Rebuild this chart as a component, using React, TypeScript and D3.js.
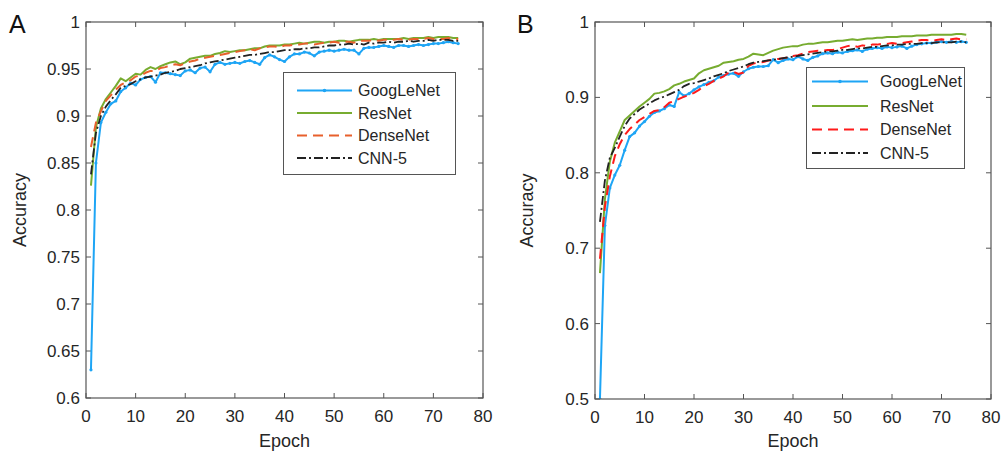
import React from "react";
import * as d3 from "d3";

const epochs: number[] = Array.from({ length: 75 }, (_, i) => i + 1);
const seriesNames = ["GoogLeNet", "ResNet", "DenseNet", "CNN-5"];
const xTicks = [0, 10, 20, 30, 40, 50, 60, 70, 80];
const yTicksA = [0.6, 0.65, 0.7, 0.75, 0.8, 0.85, 0.9, 0.95, 1];
const yTicksB = [0.5, 0.6, 0.7, 0.8, 0.9, 1];

const googA = [
  0.630, 0.850, 0.893, 0.904, 0.913, 0.916, 0.926, 0.930, 0.935, 0.933,
  0.939, 0.941, 0.942, 0.936, 0.946, 0.946, 0.945, 0.944, 0.943, 0.948,
  0.949, 0.946, 0.951, 0.952, 0.947, 0.955, 0.957, 0.955, 0.956, 0.957,
  0.956, 0.958, 0.959, 0.957, 0.955, 0.962, 0.965, 0.963, 0.960, 0.958,
  0.963, 0.966, 0.966, 0.968, 0.967, 0.964, 0.968, 0.969, 0.970, 0.969,
  0.970, 0.971, 0.970, 0.970, 0.966, 0.972, 0.973, 0.973, 0.974, 0.975,
  0.974, 0.973, 0.975, 0.975, 0.974, 0.975, 0.976, 0.975, 0.976, 0.977,
  0.977, 0.978, 0.979, 0.978, 0.977,
];
const resA = [
  0.826, 0.888, 0.908, 0.918, 0.925, 0.932, 0.940, 0.937, 0.941, 0.945,
  0.944, 0.949, 0.952, 0.950, 0.953, 0.955, 0.957, 0.958, 0.955, 0.957,
  0.961, 0.962, 0.963, 0.964, 0.964, 0.966, 0.967, 0.969, 0.968, 0.969,
  0.970, 0.970, 0.971, 0.972, 0.972, 0.974, 0.975, 0.975, 0.975, 0.976,
  0.976, 0.977, 0.978, 0.977, 0.978, 0.979, 0.979, 0.978, 0.979, 0.979,
  0.980, 0.980, 0.979, 0.980, 0.981, 0.981, 0.981, 0.982, 0.981, 0.982,
  0.982, 0.982, 0.982, 0.983, 0.982, 0.983, 0.983, 0.983, 0.984, 0.983,
  0.984, 0.984, 0.984, 0.983, 0.983,
];
const denseA = [
  0.867, 0.893, 0.905, 0.916, 0.922, 0.928, 0.933, 0.936, 0.938, 0.942,
  0.943, 0.946, 0.948, 0.948, 0.951, 0.952, 0.954, 0.955, 0.954, 0.956,
  0.958, 0.959, 0.961, 0.962, 0.963, 0.964, 0.965, 0.966, 0.967, 0.968,
  0.969, 0.970, 0.971, 0.970, 0.972, 0.973, 0.974, 0.974, 0.973, 0.975,
  0.975, 0.976, 0.976, 0.977, 0.977, 0.976, 0.977, 0.978, 0.978, 0.979,
  0.978, 0.979, 0.979, 0.978, 0.980, 0.980, 0.980, 0.981, 0.980, 0.981,
  0.981, 0.981, 0.982, 0.981, 0.981, 0.982, 0.982, 0.982, 0.983, 0.982,
  0.982, 0.982, 0.983, 0.982, 0.982,
];
const cnnA = [
  0.838, 0.882, 0.900, 0.910, 0.917, 0.923, 0.930, 0.932, 0.934, 0.937,
  0.939, 0.941, 0.942, 0.943, 0.944, 0.946, 0.947, 0.948, 0.950, 0.951,
  0.952, 0.953, 0.954, 0.956, 0.957, 0.958, 0.959, 0.960, 0.961, 0.962,
  0.963, 0.964, 0.965, 0.965, 0.966, 0.967, 0.968, 0.968, 0.969, 0.970,
  0.970, 0.971, 0.971, 0.972, 0.972, 0.973, 0.973, 0.974, 0.975, 0.975,
  0.976, 0.976, 0.977, 0.976, 0.977, 0.976, 0.978, 0.977, 0.978, 0.978,
  0.979, 0.978, 0.979, 0.979, 0.980, 0.979, 0.980, 0.980, 0.981, 0.980,
  0.981, 0.981, 0.981, 0.980, 0.980,
];

const googB = [
  0.500, 0.730, 0.780, 0.797, 0.810, 0.830, 0.848, 0.853, 0.862, 0.868,
  0.875, 0.880, 0.882, 0.885, 0.890, 0.888, 0.907, 0.902, 0.905, 0.910,
  0.914, 0.917, 0.920, 0.922, 0.927, 0.929, 0.931, 0.932, 0.928, 0.934,
  0.938, 0.940, 0.941, 0.941, 0.942, 0.950, 0.946, 0.949, 0.951, 0.950,
  0.954, 0.951, 0.949, 0.953, 0.955, 0.958, 0.959, 0.958, 0.960, 0.959,
  0.961, 0.962, 0.963, 0.961, 0.964, 0.965, 0.966, 0.965, 0.967, 0.966,
  0.967, 0.968, 0.965, 0.968, 0.970, 0.971, 0.972, 0.972, 0.973, 0.974,
  0.973, 0.974, 0.973, 0.974, 0.973,
];
const resB = [
  0.667, 0.765, 0.815, 0.840, 0.855, 0.870, 0.876, 0.882, 0.888, 0.893,
  0.898, 0.905, 0.906, 0.908, 0.911, 0.916, 0.918, 0.921, 0.923, 0.925,
  0.932, 0.936, 0.938, 0.940, 0.942, 0.946, 0.947, 0.948, 0.950, 0.951,
  0.954, 0.958, 0.957, 0.956, 0.959, 0.962, 0.964, 0.966, 0.967, 0.968,
  0.968, 0.970, 0.971, 0.971, 0.972, 0.973, 0.973, 0.974, 0.975, 0.975,
  0.976, 0.977, 0.976, 0.977, 0.978, 0.978, 0.979, 0.979, 0.980, 0.980,
  0.980, 0.981, 0.981, 0.981, 0.982, 0.982, 0.982, 0.983, 0.983, 0.983,
  0.983, 0.983, 0.984, 0.984, 0.983,
];
const denseB = [
  0.686, 0.755, 0.795, 0.822, 0.838, 0.850, 0.858, 0.864, 0.870, 0.874,
  0.878, 0.882, 0.883, 0.887, 0.893, 0.895, 0.898, 0.901, 0.903, 0.906,
  0.910, 0.915, 0.918, 0.922, 0.925, 0.928, 0.933, 0.934, 0.931, 0.933,
  0.942, 0.945, 0.946, 0.947, 0.949, 0.950, 0.951, 0.952, 0.953, 0.955,
  0.956, 0.958, 0.960, 0.961, 0.962, 0.962, 0.963, 0.963, 0.964, 0.966,
  0.968, 0.969, 0.967, 0.969, 0.968, 0.970, 0.970, 0.971, 0.971, 0.972,
  0.971, 0.972, 0.973, 0.974, 0.975, 0.976, 0.976, 0.975, 0.976, 0.977,
  0.976, 0.977, 0.978, 0.977, 0.977,
];
const cnnB = [
  0.735, 0.790, 0.820, 0.833, 0.848, 0.862, 0.872, 0.878, 0.884, 0.888,
  0.892, 0.896, 0.899, 0.901, 0.904, 0.907, 0.910, 0.915, 0.918, 0.919,
  0.921, 0.923, 0.925, 0.928, 0.930, 0.932, 0.935, 0.937, 0.939, 0.941,
  0.944, 0.946, 0.947, 0.948, 0.949, 0.950, 0.951, 0.952, 0.953, 0.954,
  0.955, 0.956, 0.957, 0.958, 0.959, 0.960, 0.961, 0.961, 0.962, 0.963,
  0.963, 0.964, 0.965, 0.965, 0.966, 0.967, 0.967, 0.968, 0.969, 0.969,
  0.970, 0.970, 0.971, 0.971, 0.971, 0.972, 0.972, 0.972, 0.973, 0.973,
  0.973, 0.973, 0.974, 0.974, 0.973,
];

const FONT = "'Liberation Sans', Arial, Helvetica, sans-serif";
const AXIS = "#555";
const TEXT = "#262626";

type Style = { color: string; dash?: string; width: number; marker?: boolean };

type PanelProps = {
  letter: string;
  letterX: number;
  left: number;
  right: number;
  top: number;
  bottom: number;
  yDomain: [number, number];
  yTicks: number[];
  yFmt: (v: number) => string;
  ylabelX: number;
  data: number[][];
  styles: Style[];
  legend: { x: number; y: number; w: number; h: number; lx0: number; lx1: number; tx: number; rows: number[] };
};

function Panel(p: PanelProps) {
  const x = d3.scaleLinear().domain([0, 80]).range([p.left, p.right]);
  const y = d3.scaleLinear().domain(p.yDomain).range([p.bottom, p.top]);
  const line = d3
    .line<number>()
    .x((_, i) => x(epochs[i]))
    .y((d) => y(d));
  const tl = 5;
  return (
    <g>
      <text x={p.letterX} y={33} fontSize={25} fontFamily={FONT} fill="#111">
        {p.letter}
      </text>
      <rect x={p.left} y={p.top} width={p.right - p.left} height={p.bottom - p.top} fill="#fff" />
      <defs>
        <clipPath id={"clip" + p.letter}>
          <rect x={p.left} y={p.top} width={p.right - p.left} height={p.bottom - p.top} />
        </clipPath>
      </defs>
      {xTicks.map((t) => (
        <g key={"xt" + t}>
          <line x1={x(t)} x2={x(t)} y1={p.bottom} y2={p.bottom - tl} stroke={AXIS} strokeWidth={1} />
          <line x1={x(t)} x2={x(t)} y1={p.top} y2={p.top + tl} stroke={AXIS} strokeWidth={1} />
          <text x={x(t)} y={p.bottom + 24} textAnchor="middle" fontSize={17} fontFamily={FONT} fill={TEXT}>
            {t}
          </text>
        </g>
      ))}
      {p.yTicks.map((t) => (
        <g key={"yt" + t}>
          <line x1={p.left} x2={p.left + tl} y1={y(t)} y2={y(t)} stroke={AXIS} strokeWidth={1} />
          <line x1={p.right} x2={p.right - tl} y1={y(t)} y2={y(t)} stroke={AXIS} strokeWidth={1} />
          <text x={p.left - 6} y={y(t)} dy="0.35em" textAnchor="end" fontSize={17} fontFamily={FONT} fill={TEXT}>
            {p.yFmt(t)}
          </text>
        </g>
      ))}
      <g clipPath={`url(#clip${p.letter})`}>
        {p.data.map((d, si) => {
          const s = p.styles[si];
          return (
            <g key={"s" + si}>
              <path d={line(d) || ""} fill="none" stroke={s.color} strokeWidth={s.width} strokeDasharray={s.dash} strokeLinejoin="round" />
              {s.marker &&
                d.map((v, i) => <circle key={i} cx={x(epochs[i])} cy={y(v)} r={1.6} fill={s.color} />)}
            </g>
          );
        })}
      </g>
      <rect x={p.left} y={p.top} width={p.right - p.left} height={p.bottom - p.top} fill="none" stroke={AXIS} strokeWidth={1.2} />
      <text x={(p.left + p.right) / 2} y={447} textAnchor="middle" fontSize={18} fontFamily={FONT} fill={TEXT}>
        Epoch
      </text>
      <text
        transform={`translate(${p.ylabelX},${(p.top + p.bottom) / 2}) rotate(-90)`}
        textAnchor="middle"
        fontSize={18}
        fontFamily={FONT}
        fill={TEXT}
      >
        Accuracy
      </text>
      <rect x={p.legend.x} y={p.legend.y} width={p.legend.w} height={p.legend.h} fill="#fff" stroke={AXIS} strokeWidth={1} />
      {seriesNames.map((n, i) => {
        const s = p.styles[i];
        const ry = p.legend.rows[i];
        return (
          <g key={"lg" + n}>
            <line x1={p.legend.lx0} x2={p.legend.lx1} y1={ry} y2={ry} stroke={s.color} strokeWidth={s.width} strokeDasharray={s.dash} />
            {s.marker && <circle cx={(p.legend.lx0 + p.legend.lx1) / 2} cy={ry} r={1.8} fill={s.color} />}
            <text x={p.legend.tx} y={ry} dy="0.36em" fontSize={16} fontFamily={FONT} fill={TEXT}>
              {n}
            </text>
          </g>
        );
      })}
    </g>
  );
}

export default function App() {
  const stylesA: Style[] = [
    { color: "#1ea5f5", width: 2, marker: true },
    { color: "#77ac30", width: 2 },
    { color: "#e8602c", dash: "10,6", width: 2 },
    { color: "#222", dash: "9,3,2,3", width: 1.8 },
  ];
  const stylesB: Style[] = [
    { color: "#1ea5f5", width: 2, marker: true },
    { color: "#77ac30", width: 2 },
    { color: "#ff1a1a", dash: "10,6", width: 2 },
    { color: "#222", dash: "9,3,2,3", width: 1.8 },
  ];
  const fmtA = (v: number) => (v === 1 ? "1" : d3.format("")(+v.toFixed(2)));
  const fmtB = (v: number) => (v === 1 ? "1" : v.toFixed(1));
  return (
    <svg width={1001} height={452} style={{ position: "absolute", left: 0, top: 0, background: "#fff" }}>
      <rect width={1001} height={452} fill="#fff" />
      <Panel
        letter="A"
        letterX={9}
        left={86}
        right={483}
        top={22}
        bottom={398}
        yDomain={[0.6, 1]}
        yTicks={yTicksA}
        yFmt={fmtA}
        ylabelX={26}
        data={[googA, resA, denseA, cnnA]}
        styles={stylesA}
        legend={{ x: 283.5, y: 72.5, w: 172, h: 102, lx0: 297, lx1: 352, tx: 358, rows: [90.5, 113, 135.5, 158] }}
      />
      <Panel
        letter="B"
        letterX={517}
        left={595}
        right={991}
        top={22}
        bottom={399}
        yDomain={[0.5, 1]}
        yTicks={yTicksB}
        yFmt={fmtB}
        ylabelX={533}
        data={[googB, resB, denseB, cnnB]}
        styles={stylesB}
        legend={{ x: 806.5, y: 67.5, w: 158, h: 101, lx0: 812, lx1: 868, tx: 880, rows: [81.5, 106, 129.5, 153] }}
      />
    </svg>
  );
}
